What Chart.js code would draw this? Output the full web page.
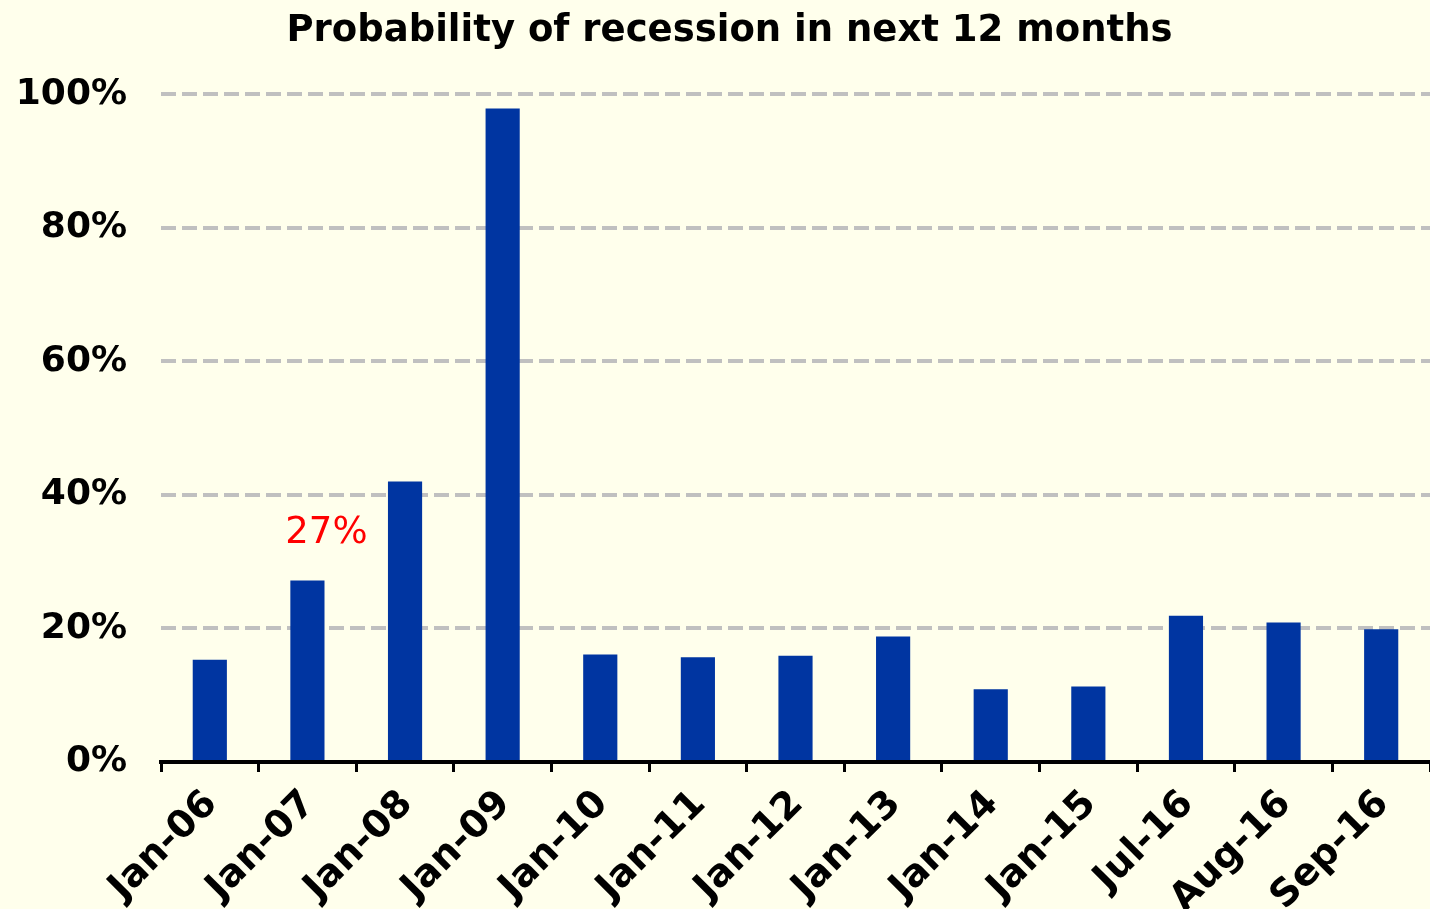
<!DOCTYPE html>
<html>
<head>
<meta charset="utf-8">
<script src="https://cdn.jsdelivr.net/npm/chart.js@4/dist/chart.umd.min.js"></script>
<style>
  html, body { margin: 0; padding: 0; background: #FFFFEC; }
  #wrap { width: 1430px; height: 909px; position: relative; }
</style>
</head>
<body>
<div id="wrap"><canvas id="chartContainer"></canvas></div>
<script>
// data
var categories = ['Jan-06', 'Jan-07', 'Jan-08', 'Jan-09', 'Jan-10', 'Jan-11', 'Jan-12',
                  'Jan-13', 'Jan-14', 'Jan-15', 'Jul-16', 'Aug-16', 'Sep-16'];
var probability = [15.3, 27.2, 42.0, 97.9, 16.1, 15.7, 15.9, 18.8, 10.9, 11.3, 21.9, 20.9, 19.9];
var yTicks = [0, 20, 40, 60, 80, 100];
var labelledIndex = 1;   // the bar that carries the red label

var fontFamily = '"DejaVu Sans", Verdana, sans-serif';

// red value label over one bar
var valueLabel = {
  id: 'valueLabel',
  afterLayout: function (chart) {
    // title sits a little right of the canvas centre in the original
    if (chart.titleBlock) chart.titleBlock.left += 29;
  },
  afterDatasetsDraw: function (chart) {
    var c = chart.ctx;
    var x = chart.scales.x.getPixelForValue(labelledIndex);
    var y = chart.scales.y.getPixelForValue(probability[labelledIndex]);
    c.save();
    c.font = '37px ' + fontFamily;
    c.fillStyle = '#FF0000';
    c.textAlign = 'center';
    c.textBaseline = 'middle';
    c.fillText(Math.round(probability[labelledIndex]) + '%', x + 19, y - 47);
    c.restore();
  }
};

var ctx = document.getElementById('chartContainer').getContext('2d');
var chart = new Chart(ctx, {
  type: 'bar',
  data: {
    labels: categories,
    datasets: [{
      data: probability,
      backgroundColor: '#0035A1',
      borderWidth: 0,
      barPercentage: 0.35,
      categoryPercentage: 1.0
    }]
  },
  options: {
    responsive: true,
    maintainAspectRatio: false,
    animation: false,
    layout: { padding: 0 },
    plugins: {
      legend: { display: false },
      tooltip: { enabled: false },
      title: {
        display: true,
        text: 'Probability of recession in next 12 months',
        color: '#000',
        font: { family: fontFamily, size: 37, weight: 'bold' },
        padding: { top: 9, bottom: 41 }
      }
    },
    scales: {
      x: {
        offset: true,
        grid: {
          offset: true,
          drawOnChartArea: false,
          drawTicks: true,
          tickLength: 10,
          color: '#000',
          lineWidth: 3
        },
        border: { display: true, color: '#000', width: 4 },
        ticks: {
          autoSkip: false,
          maxRotation: 45,
          minRotation: 45,
          color: '#000',
          padding: 10,
          labelOffset: 2,
          font: { family: fontFamily, size: 38, weight: 'bold' }
        },
        afterFit: function (s) { s.height = 147; }
      },
      y: {
        min: 0,
        max: 100,
        afterBuildTicks: function (s) {
          s.ticks = yTicks.map(function (v) { return { value: v }; });
        },
        grid: {
          drawTicks: false,
          color: '#C0C0C0',
          lineWidth: 4
        },
        border: { display: false, dash: [15, 6] },
        ticks: {
          color: '#000',
          padding: 34,
          font: { family: fontFamily, size: 36, weight: 'bold' },
          callback: function (v) { return v + '%'; }
        },
        afterFit: function (s) { s.width = 161; }
      }
    }
  },
  plugins: [valueLabel]
});
</script>
</body>
</html>
